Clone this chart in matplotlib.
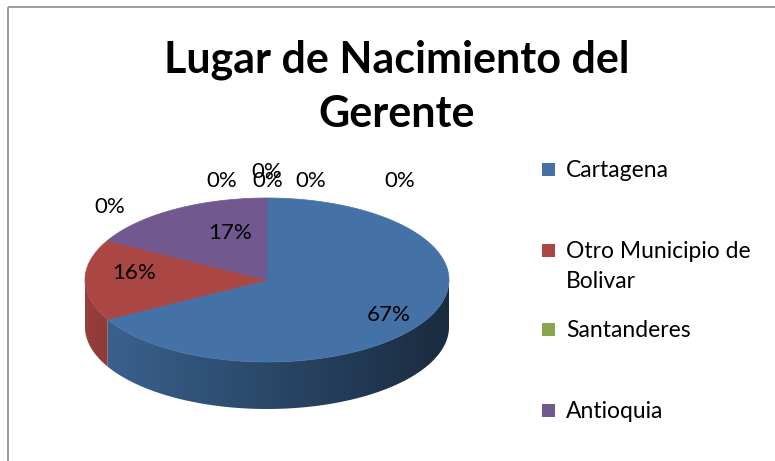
import numpy as np
import matplotlib as mpl
mpl.use('Agg')
import matplotlib.pyplot as plt
from matplotlib.patches import Polygon, Rectangle

# data (clockwise from 12 o'clock, like Excel)
values = [67, 16, 0, 17, 0, 0, 0, 0, 0]
pct_labels = ["67%", "16%", "0%", "17%", "0%", "0%", "0%", "0%", "0%"]
legend_names = ["Cartagena", "Otro Municipio de\nBolivar", "Santanderes", "Antioquia"]
colors = ["#4472A6", "#AA4643", "#89A54E", "#71588F",
          "#4198AF", "#DB843D", "#93A9CF", "#D19392", "#B9CD96"]
title_lines = ["Lugar de Nacimiento del", "Gerente"]

# layout in pixels (y grows downward)
W, H = 775, 461
cx, cy, rx, ry, depth = 267, 280, 182, 82, 47
label_pos = [(389, 315), (134, 273), (110, 207), (230, 233),
             (222, 181), (267, 172), (268, 181), (311, 181), (400, 181)]

plt.rcParams['font.family'] = ['Lato', 'DejaVu Sans']

fig = plt.figure(figsize=(W / 100, H / 100), dpi=100)
ax = fig.add_axes([0, 0, 1, 1])
ax.set_xlim(0, W)
ax.set_ylim(H, 0)
ax.axis('off')

# chart border
ax.add_patch(Rectangle((8, 7), W + 10, H + 10, fill=False, ec="#8C8C8C", lw=1.2))


def pt(t, dz=0.0):
    return (cx + rx * np.cos(t), cy - ry * np.sin(t) + dz)


total = float(sum(values))
start = np.pi / 2
angles = []
for v in values:
    end = start - 2 * np.pi * v / total
    angles.append((start, end))
    start = end

# side walls (front half only), shaded with a horizontal gradient
xs = np.linspace(cx - rx, cx + rx, 300)
shade_f = np.linspace(0.88, 0.38, 300)
for (a0, a1), col, v in zip(angles, colors, values):
    if v == 0:
        continue
    lo, hi = min(a0, a1), max(a0, a1)
    for k in range(-1, 2):
        s = max(lo, np.pi + 2 * np.pi * k)
        e = min(hi, 2 * np.pi + 2 * np.pi * k)
        if e <= s:
            continue
        ts = np.linspace(s, e, 200)
        poly = [pt(t) for t in ts] + [pt(t, depth) for t in ts[::-1]]
        patch = Polygon(poly, closed=True, fc='none', ec='none')
        ax.add_patch(patch)
        rgb = np.array(mpl.colors.to_rgb(col))
        grad = np.clip(shade_f[None, :, None] * rgb[None, None, :], 0, 1)
        im = ax.imshow(grad, extent=(cx - rx, cx + rx, cy + ry + depth + 2, cy - 2),
                       aspect='auto', interpolation='bilinear', zorder=1)
        im.set_clip_path(patch)

# top faces
for (a0, a1), col, v in zip(angles, colors, values):
    if v == 0:
        continue
    ts = np.linspace(a0, a1, 200)
    poly = [(cx, cy)] + [pt(t) for t in ts]
    ax.add_patch(Polygon(poly, closed=True, fc=col, ec=col, lw=0.5, zorder=2))

ax.set_xlim(0, W)
ax.set_ylim(H, 0)

# percentage labels
for (x, y), s in zip(label_pos, pct_labels):
    ax.text(x, y, s, fontsize=16, ha='center', va='center', color='black', zorder=3)

# title
ax.text(397, 72, title_lines[0], fontsize=31, fontweight='bold', ha='center', va='baseline')
ax.text(397, 127, title_lines[1], fontsize=31, fontweight='bold', ha='center', va='baseline')

# legend
leg_base = [177, 258, 337, 418]
for name, col, y in zip(legend_names, colors, leg_base):
    ax.add_patch(Rectangle((542, y - 14), 13, 13, fc=col, ec='none'))
    for i, line in enumerate(name.split("\n")):
        ax.text(566, y + 30 * i, line, fontsize=16.5, ha='left', va='baseline')

fig.savefig("out.png", dpi=100)
